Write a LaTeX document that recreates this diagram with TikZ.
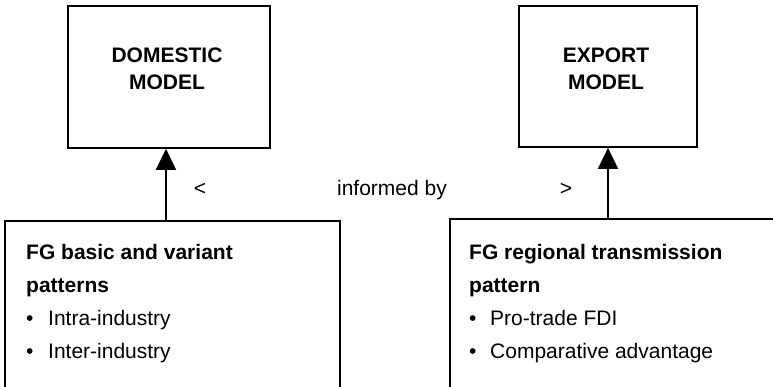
\documentclass[tikz,border=0pt]{standalone}
\usepackage{fontspec}
\setmainfont{Liberation Sans}
\usetikzlibrary{arrows.meta}
\begin{document}
\begin{tikzpicture}[x=1pt,y=1pt,
  box/.style={draw=black, line width=1.7pt, rectangle, inner sep=0pt},
  title/.style={font=\fontsize{21}{27}\selectfont\bfseries, align=center, anchor=base, inner sep=0pt},
  body/.style={font=\fontsize{21}{32.7}\selectfont, align=left, anchor=base west, inner sep=0pt},
  lbl/.style={font=\fontsize{21}{25}\selectfont, anchor=base, inner sep=0pt},
  arr/.style={line width=1.8pt, -{Triangle[width=20pt,length=21pt]}}]
\clip (0,0) rectangle (773,386);
\fill[white] (0,0) rectangle (773,386);
% top boxes
\node[box, minimum width=202pt, minimum height=142pt] (dom) at (169,309) {};
\node[box, minimum width=178pt, minimum height=141pt] (exp) at (608,309.5) {};
\node[title] (domt) at (167,296) {DOMESTIC\\MODEL};
\node[title] (expt) at (606,296) {EXPORT\\MODEL};
% bottom boxes
\node[box, minimum width=335pt, minimum height=185pt] (fgb) at (172.5,72.5) {};
\node[box, minimum width=350pt, minimum height=187pt] (fgr) at (625,73.5) {};
\node[body] (fgbt) at (26,28) {\textbf{FG basic and variant}\\\textbf{patterns}\\\makebox[22pt][l]{\textbullet}Intra-industry\\\makebox[22pt][l]{\textbullet}Inter-industry};
\node[body] (fgrt) at (469,28) {\textbf{FG regional transmission}\\\textbf{pattern}\\\makebox[21pt][l]{\textbullet}Pro-trade FDI\\\makebox[21pt][l]{\textbullet}Comparative advantage};
% labels
\node[lbl] (lt) at (200,190) {<};
\node[lbl] (inf) at (392,190) {informed by};
\node[lbl] (gt) at (566,190) {>};
% arrows
\coordinate (a1) at (166,0);
\coordinate (a2) at (608,0);
\draw[arr] (fgb.north -| a1) -- (dom.south -| a1);
\draw[arr] (fgr.north -| a2) -- (exp.south -| a2);
\end{tikzpicture}
\end{document}
